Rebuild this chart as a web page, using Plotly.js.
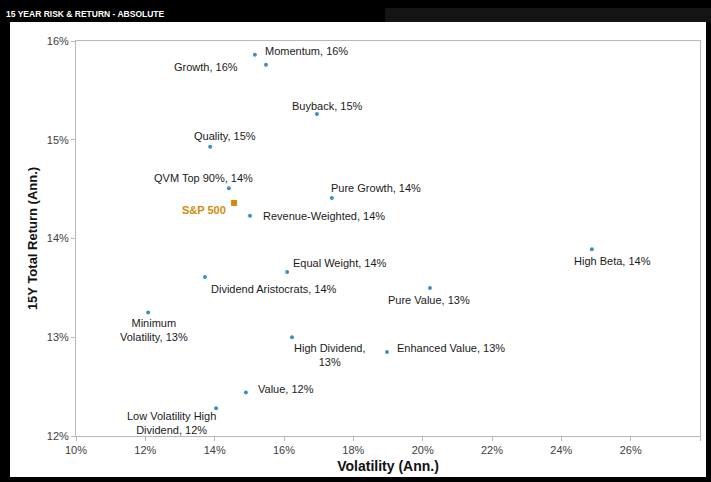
<!DOCTYPE html>
<html>
<head>
<meta charset="utf-8">
<script src="https://cdn.plot.ly/plotly-3.0.1.min.js"></script>
<style>
  html, body { margin: 0; padding: 0; background: #000; }
  #chart { width: 711px; height: 482px; }
</style>
</head>
<body>
<div id="chart"></div>
<script>
// ---- Data ----
const names = [
  "Momentum, 16%", "Growth, 16%", "Buyback, 15%", "Quality, 15%",
  "QVM Top 90%, 14%", "Revenue-Weighted, 14%", "Pure Growth, 14%",
  "High Beta, 14%", "Equal Weight, 14%", "Dividend Aristocrats, 14%",
  "Pure Value, 13%", "Minimum<br>Volatility, 13%", "High Dividend,<br>13%",
  "Enhanced Value, 13%", "Value, 12%", "Low Volatility High<br>Dividend, 12%"
];
const volatility = [15.16, 15.48, 16.95, 13.87, 14.41, 15.02, 17.38, 24.88, 16.09, 13.72, 20.21, 12.08, 16.23, 18.97, 14.90, 14.04];
const totalReturn = [15.86, 15.76, 15.26, 14.93, 14.51, 14.23, 14.41, 13.89, 13.66, 13.61, 13.50, 13.25, 13.00, 12.85, 12.44, 12.28];

const benchName = ["S&P 500"];
const benchVol = [14.56];
const benchRet = [14.36];

const xTicks = [10, 12, 14, 16, 18, 20, 22, 24, 26, 28];
const yTicks = [12, 13, 14, 15, 16];
const xTickLabels = xTicks.map(v => v + "%");
const yTickLabels = yTicks.map(v => v + "%");

// ---- Label placement (pixel offsets from each point) ----
const labelPlace = [
  {xa: "left",   dx: 8,   dy: 4},
  {xa: "right",  dx: -26, dy: -2},
  {xa: "center", dx: 11,  dy: 8},
  {xa: "center", dx: 15,  dy: 11},
  {xa: "center", dx: -25, dy: 10},
  {xa: "left",   dx: 11,  dy: 0},
  {xa: "left",   dx: -3,  dy: 10},
  {xa: "left",   dx: -20, dy: -12},
  {xa: "left",   dx: 4,   dy: 9},
  {xa: "left",   dx: 4,   dy: -12},
  {xa: "center", dx: -1,  dy: -12},
  {xa: "center", dx: 6,   dy: -17},
  {xa: "center", dx: 38,  dy: -18},
  {xa: "left",   dx: 8,   dy: 4},
  {xa: "left",   dx: 10,  dy: 4},
  {xa: "center", dx: -45, dy: -15}
];

const FONT = "'Liberation Sans', Arial, sans-serif";

const annotations = names.map((n, i) => ({
  x: volatility[i], y: totalReturn[i], xref: "x", yref: "y",
  text: n, showarrow: false,
  xanchor: labelPlace[i].xa, yanchor: "middle",
  xshift: labelPlace[i].dx, yshift: labelPlace[i].dy,
  font: {family: FONT, size: 11, color: "#1a1a1a"}, align: "center"
}));
annotations.push({
  x: benchVol[0], y: benchRet[0], xref: "x", yref: "y",
  text: "<b>" + benchName[0] + "</b>", showarrow: false,
  xanchor: "right", yanchor: "middle", xshift: -6, yshift: -7,
  font: {family: FONT, size: 11, color: "#d48a0a"}
});
annotations.push({
  x: 0, y: 1, xref: "paper", yref: "paper",
  xanchor: "left", yanchor: "middle",
  xshift: -72, yshift: 27,
  text: "<b>15 YEAR RISK &amp; RETURN - ABSOLUTE</b>", showarrow: false,
  font: {family: FONT, size: 8.5, color: "#ffffff"}
});

const traces = [
  {
    type: "scatter", mode: "markers",
    x: volatility, y: totalReturn, text: names,
    marker: {color: "#3e8ec4", size: 4},
    hoverinfo: "text", showlegend: false
  },
  {
    type: "scatter", mode: "markers",
    x: benchVol, y: benchRet, text: benchName,
    marker: {color: "#d48a0a", size: 6, symbol: "square"},
    hoverinfo: "text", showlegend: false
  }
];

// Plot area: x 76..700, y 41..436
const L = 76, R = 11, T = 41, B = 46, W = 711, H = 482;
const pw = W - L - R, ph = H - T - B;
const px = v => (v - L) / pw;
const py = v => (H - B - v) / ph;

const layout = {
  width: W, height: H,
  margin: {l: L, r: R, t: T, b: B, pad: 0},
  paper_bgcolor: "#000000",
  plot_bgcolor: "#ffffff",
  font: {family: FONT, size: 11, color: "#333"},
  xaxis: {
    range: [10, 28], tickvals: xTicks, ticktext: xTickLabels,
    showgrid: false, zeroline: false,
    showline: true, linecolor: "#b8b8b8", linewidth: 1, mirror: true,
    ticks: "outside", ticklen: 4, tickcolor: "#b8b8b8",
    tickfont: {family: FONT, size: 11, color: "#404040"},
    title: {text: "<b>Volatility (Ann.)</b>", standoff: 5,
            font: {family: FONT, size: 14, color: "#111"}},
    fixedrange: true
  },
  yaxis: {
    range: [12, 16], tickvals: yTicks, ticktext: yTickLabels,
    showgrid: false, zeroline: false,
    showline: true, linecolor: "#b8b8b8", linewidth: 1, mirror: true,
    ticks: "outside", ticklen: 4, tickcolor: "#b8b8b8",
    tickfont: {family: FONT, size: 11, color: "#404040"},
    title: {text: "<b>15Y Total Return (Ann.)</b>", standoff: 6,
            font: {family: FONT, size: 13, color: "#111"}},
    fixedrange: true
  },
  shapes: [
    {type: "rect", xref: "paper", yref: "paper", layer: "below",
     x0: px(10), x1: px(706), y0: py(477), y1: py(22),
     fillcolor: "#ffffff", line: {width: 0}},
    {type: "rect", xref: "paper", yref: "paper", layer: "below",
     x0: px(385), x1: px(711), y0: py(22), y1: py(8),
     fillcolor: "#141414", line: {width: 0}}
  ],
  annotations: annotations,
  showlegend: false
};

Plotly.newPlot("chart", traces, layout, {displayModeBar: false, staticPlot: true});
</script>
</body>
</html>
